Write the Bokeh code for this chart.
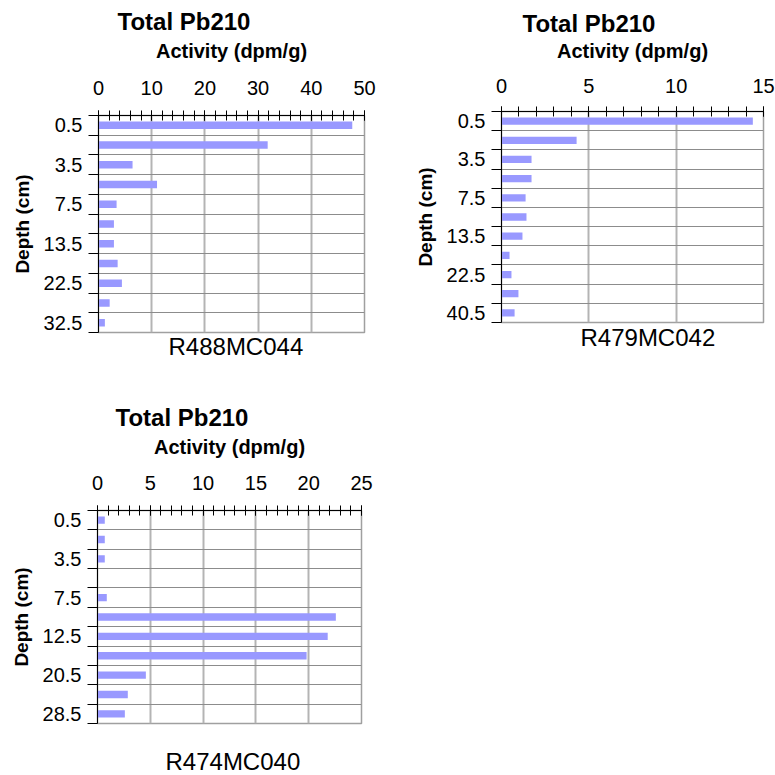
from bokeh.plotting import figure
from bokeh.models import Range1d, FixedTicker, Title, ColumnDataSource
from bokeh.layouts import column, row
from bokeh.embed import file_html
from bokeh.resources import INLINE

# ---------------- data ----------------
title_text = "Total Pb210"
x_label = "Activity (dpm/g)"
y_label = "Depth (cm)"

core1 = "R488MC044"
depth1 = ["0.5", "1.5", "3.5", "5.5", "7.5", "10.5", "13.5", "17.5", "22.5", "27.5", "32.5"]
act1 = [47.7, 31.8, 6.4, 11.0, 3.4, 2.9, 2.9, 3.6, 4.4, 2.1, 1.2]
xticks1 = [0, 10, 20, 30, 40, 50]

core2 = "R479MC042"
depth2 = ["0.5", "1.5", "3.5", "5.5", "7.5", "10.5", "13.5", "17.5", "22.5", "31.5", "40.5"]
act2 = [14.39, 4.30, 1.72, 1.72, 1.38, 1.43, 1.20, 0.46, 0.57, 0.97, 0.75]
xticks2 = [0, 5, 10, 15]

core3 = "R474MC040"
depth3 = ["0.5", "1.5", "3.5", "5.5", "7.5", "10.5", "12.5", "16.5", "20.5", "24.5", "28.5"]
act3 = [0.69, 0.69, 0.69, 0.0, 0.88, 22.57, 21.8, 19.8, 4.58, 2.87, 2.59]
xticks3 = [0, 5, 10, 15, 20, 25]

FONT = "Liberation Sans"
BAR = "#9999ff"


def make_chart(depths, vals, xticks, minor_step, core, fw, fh, left, right, top, bottom,
               title_offset, name_standoff, name_offset, lab_so, axl_so, title_so):
    n = len(depths)
    xmax = xticks[-1]
    p = figure(output_backend="svg", toolbar_location=None,
               frame_width=fw, frame_height=fh,
               min_border_left=left, min_border_right=right,
               min_border_top=top, min_border_bottom=bottom,
               x_range=Range1d(0, xmax), y_range=Range1d(n, 0),
               x_axis_location="above")
    p.frame_align = False
    p.outline_line_color = "#a0a0a0"
    p.outline_line_width = 1.5
    p.background_fill_color = "white"
    p.border_fill_color = "white"

    src = ColumnDataSource(dict(y=[i + 0.5 for i in range(n)], v=vals))
    p.hbar(y="y", left=0, right="v", height=0.38, source=src,
           fill_color=BAR, line_color=None)

    # x axis (top)
    xa = p.xaxis[0]
    minor = []
    t = 0.0
    while t <= xmax + 1e-9:
        minor.append(round(t, 6))
        t += minor_step
    xa.ticker = FixedTicker(ticks=xticks, minor_ticks=minor)
    xa.major_tick_in = 5
    xa.major_tick_out = 5
    xa.minor_tick_in = 5
    xa.minor_tick_out = 5
    xa.major_tick_line_color = "black"
    xa.minor_tick_line_color = "black"
    xa.axis_line_color = "black"
    xa.major_label_text_font = FONT
    xa.major_label_text_font_size = "20px"
    xa.major_label_text_color = "black"
    xa.major_label_standoff = lab_so
    xa.axis_label = x_label
    xa.axis_label_text_font = FONT
    xa.axis_label_text_font_style = "bold"
    xa.axis_label_text_font_size = "20px"
    xa.axis_label_text_color = "black"
    xa.axis_label_standoff = axl_so

    # y axis (left): labels at every other category center, ticks at boundaries
    ya = p.yaxis[0]
    centers = [i + 0.5 for i in range(0, n, 2)]
    ya.ticker = FixedTicker(ticks=centers, minor_ticks=list(range(n + 1)))
    ya.major_label_overrides = {c: depths[int(c - 0.5)] for c in centers}
    ya.major_tick_in = 0
    ya.major_tick_out = 0
    ya.minor_tick_in = 0
    ya.minor_tick_out = 10
    ya.minor_tick_line_color = "black"
    ya.axis_line_color = "black"
    ya.major_label_text_font = FONT
    ya.major_label_text_font_size = "20px"
    ya.major_label_text_color = "black"
    ya.major_label_standoff = 6
    ya.axis_label = y_label
    ya.axis_label_text_font = FONT
    ya.axis_label_text_font_style = "bold"
    ya.axis_label_text_font_size = "19px"
    ya.axis_label_text_color = "black"
    ya.axis_label_standoff = 8

    # grids
    p.xgrid.ticker = FixedTicker(ticks=xticks)
    p.xgrid.grid_line_color = "#b4b4b4"
    p.xgrid.grid_line_width = 2
    p.ygrid.ticker = FixedTicker(ticks=list(range(n + 1)))
    p.ygrid.grid_line_color = "#8c8c8c"
    p.ygrid.grid_line_width = 1

    # title
    p.title.text = title_text
    p.title.text_font = FONT
    p.title.text_font_size = "24px"
    p.title.text_font_style = "bold"
    p.title.text_color = "black"
    p.title.align = "left"
    p.title.offset = title_offset
    p.title.standoff = title_so

    # core name below
    p.add_layout(Title(text=core, align="left", text_font=FONT,
                       text_font_size="24px", text_font_style="normal",
                       text_color="black", offset=name_offset,
                       standoff=name_standoff), "below")
    return p


p1 = make_chart(depth1, act1, xticks1, 2, core1, 266, 217, 98, 36, 115, 63,
                19, -4, 70, 16, 16, 4)
p2 = make_chart(depth2, act2, xticks2, 1, core2, 262, 211, 101, 12, 111, 73,
                21, -1, 79, 14, 14, 0)
p3 = make_chart(depth3, act3, xticks3, 1, core3, 264, 213, 97, 39, 115, 52,
                18, 45, 68, 16, 15, 4)

layout = column(row(p1, p2), p3)
open("out.html", "w").write(file_html(layout, INLINE))
